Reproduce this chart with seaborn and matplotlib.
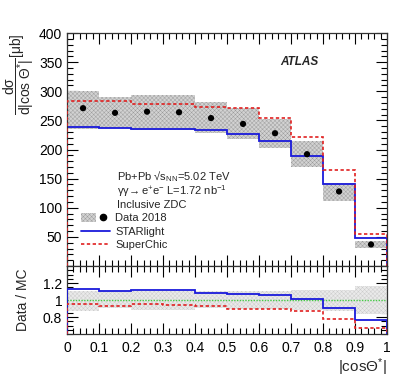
import matplotlib
matplotlib.use("Agg")
import matplotlib.pyplot as plt
from matplotlib.patches import Patch
from matplotlib.lines import Line2D
from matplotlib.legend_handler import HandlerTuple
from matplotlib.ticker import MultipleLocator, FixedLocator, FuncFormatter
import numpy as np
import seaborn as sns

# |cos Theta*| bins
edges = [0.0, 0.1, 0.2, 0.3, 0.4, 0.5, 0.6, 0.7, 0.8, 0.9, 1.0]
centers = [0.05, 0.15, 0.25, 0.35, 0.45, 0.55, 0.65, 0.75, 0.85, 0.95]

# values (mub)
data_2018 = [271, 263, 265, 264, 254, 244, 228, 192, 128, 37]
sys_up = [30, 27, 28, 29, 27, 27, 25, 22, 15, 6]
sys_down = [35, 26, 31, 30, 25, 26, 25, 22, 16, 6]
starlight = [239, 237, 236, 236, 234, 227, 215, 189, 141, 48.6]
superchic = [284, 283, 279, 279, 273, 272, 255, 221, 164, 55.5]

sns.set_style("ticks")
plt.rcParams["font.family"] = ["Liberation Sans", "DejaVu Sans"]
plt.rcParams["mathtext.fontset"] = "custom"
plt.rcParams["mathtext.rm"] = "Liberation Sans"
plt.rcParams["mathtext.it"] = "Liberation Sans:italic"
plt.rcParams["mathtext.bf"] = "Liberation Sans:bold"
plt.rcParams["hatch.linewidth"] = 0.3

data = np.array(data_2018, dtype=float)
up = data + np.array(sys_up)
down = data - np.array(sys_down)
sl = np.array(starlight)
sc = np.array(superchic)

fig = plt.figure(figsize=(3.99, 3.80), dpi=100)
ax1 = fig.add_axes([0.168, 0.300, 0.802, 0.613])
ax2 = fig.add_axes([0.168, 0.121, 0.802, 0.179], sharex=ax1)

band_face = "#d2d2d2"
band_hatch = "#9a9a9a"

# top panel
ax1.stairs(up, edges, baseline=down, fill=True, facecolor=band_face,
           edgecolor=band_hatch, hatch="xxxxxxxx", linewidth=0, zorder=1)
ax1.stairs(sl, edges, color="#1a1adb", linewidth=1.3, zorder=2)
ax1.stairs(sc, edges, color="#e02020", linewidth=1.2, linestyle=(0, (2, 1.5)), zorder=3)
sns.scatterplot(x=centers, y=data_2018, ax=ax1, color="black", s=20,
                edgecolor="none", zorder=4, legend=False)

ax1.set_xlim(0, 1)
ax1.set_ylim(0, 400)
ax1.yaxis.set_major_locator(FixedLocator([50, 100, 150, 200, 250, 300, 350, 400]))
ax1.yaxis.set_minor_locator(MultipleLocator(10))
ax1.xaxis.set_major_locator(MultipleLocator(0.1))
ax1.xaxis.set_minor_locator(MultipleLocator(0.02))
ax1.tick_params(labelbottom=False)
ax1.set_ylabel(r"$\dfrac{\mathrm{d\sigma}}{\mathrm{d|cos\ \Theta^{*}|}}$[$\mathrm{\mu}$b]",
               fontsize=10, loc="top")
ax1.yaxis.set_label_coords(-0.097, 1.0)

ax1.text(0.666, 0.877, "ATLAS", transform=ax1.transAxes, fontsize=8.5,
         fontweight="bold", fontstyle="italic", va="center")
ax1.text(0.155, 0.384, r"Pb+Pb √s$_{\mathrm{NN}}$=5.02 TeV", transform=ax1.transAxes,
         fontsize=8, va="center")
ax1.text(0.155, 0.322, r"$\mathrm{\gamma\gamma\!\rightarrow e^{+}e^{-}}$ L=1.72 nb$^{-1}$",
         transform=ax1.transAxes, fontsize=8, va="center")
ax1.text(0.155, 0.264, "Inclusive ZDC", transform=ax1.transAxes, fontsize=8, va="center")

band_h = Patch(facecolor=band_face, edgecolor=band_hatch, hatch="xxxxxxxx", linewidth=0)
dot_h = Line2D([], [], color="black", marker="o", markersize=4.5, linestyle="none")
sl_h = Line2D([], [], color="#1a1adb", linewidth=1.3)
sc_h = Line2D([], [], color="#e02020", linewidth=1.2, linestyle=(0, (2, 1.5)))
ax1.legend([(band_h, dot_h), sl_h, sc_h], ["Data 2018", "STARlight", "SuperChic"],
           handler_map={tuple: HandlerTuple(ndivide=None, pad=0)},
           loc="upper left", bbox_to_anchor=(0.045, 0.228), frameon=False,
           fontsize=8, handlelength=2.6, handleheight=0.9, handletextpad=0.45,
           labelspacing=0.28, borderpad=0, borderaxespad=0)

# ratio panel
rel_up = 1 + np.array(sys_up) / data
rel_down = 1 - np.array(sys_down) / data
ax2.stairs(rel_up, edges, baseline=rel_down, fill=True, facecolor="#eaeaea",
           edgecolor="#cacaca", hatch="xxxxxxxx", linewidth=0, zorder=1)
ax2.axhline(1, color="#44cc44", linestyle=(0, (1, 1)), linewidth=1, zorder=2)
ax2.stairs(data / sl, edges, color="#1a1adb", linewidth=1.3, zorder=3)
ax2.stairs(data / sc, edges, color="#e02020", linewidth=1.2, linestyle=(0, (2, 1.5)), zorder=3)

ax2.set_ylim(0.6, 1.4)
ax2.yaxis.set_major_locator(FixedLocator([0.8, 1.0, 1.2]))
ax2.yaxis.set_minor_locator(MultipleLocator(0.05))
ax2.yaxis.set_major_formatter(FuncFormatter(lambda v, p: f"{v:g}"))
ax2.xaxis.set_major_formatter(FuncFormatter(lambda v, p: f"{v:g}"))
ax2.set_ylabel("Data / MC", fontsize=10)
ax2.yaxis.set_label_coords(-0.115, 0.5)
ax2.set_xlabel(r"$\mathrm{|cos\Theta^{*}|}$", fontsize=11, loc="right")
ax2.xaxis.set_label_coords(1.0, -0.33)

for ax in (ax1, ax2):
    ax.tick_params(which="both", direction="in", top=True, right=True,
                   labelsize=10, colors="black", width=0.8)
    ax.tick_params(which="major", length=8)
    ax.tick_params(which="minor", length=4)
    for s in ax.spines.values():
        s.set_linewidth(0.9)
        s.set_color("#333333")
ax2.tick_params(axis="x", which="major", pad=5)

fig.savefig("out.png", dpi=100)
